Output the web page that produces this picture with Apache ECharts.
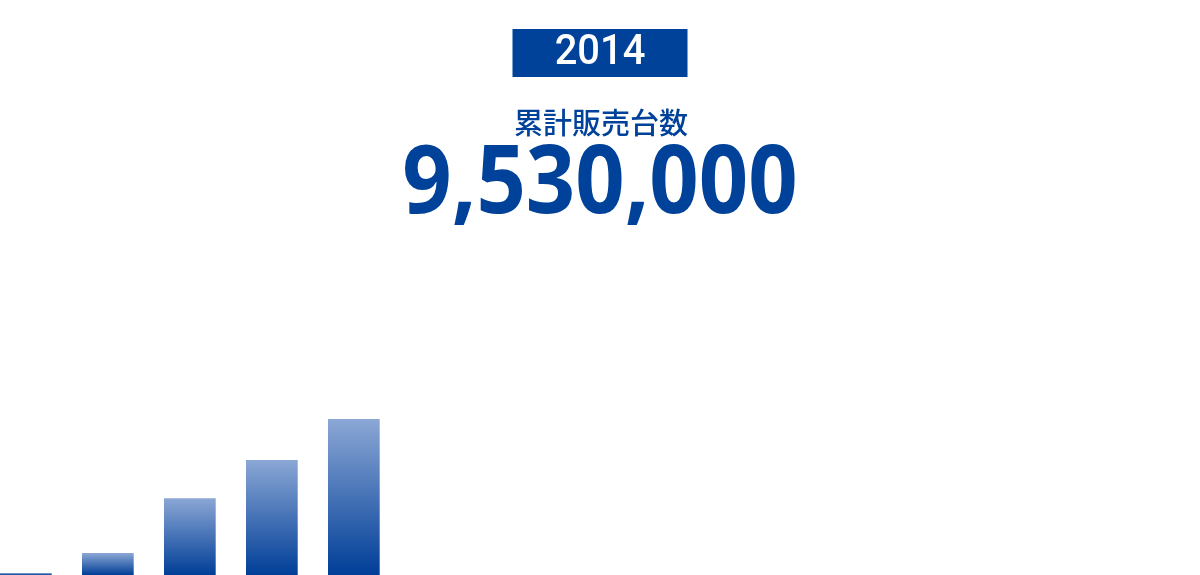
<!DOCTYPE html>
<html>
<head>
<meta charset="utf-8">
<script src="https://cdn.jsdelivr.net/npm/echarts@6/dist/echarts.min.js"></script>
<style>
html,body{margin:0;padding:0;background:#fff;}
#chart{width:1200px;height:575px;}
</style>
</head>
<body>
<div id="chart"></div>
<script>
var categories = ['2010','2011','2012','2013','2014','2015','2016','2017','2018','2019','2020','2021','2022','2023','2024'];
var salesValues = [120000, 1340000, 4690000, 7030000, 9530000, null, null, null, null, null, null, null, null, null, null];
var yearLabel = '2014';
var captionLabel = '累計販売台数';
var totalLabel = '9,530,000';

var blue = '#00419a';
var chart = echarts.init(document.getElementById('chart'), null, {renderer: 'canvas'});
chart.setOption({
  animation: false,
  backgroundColor: '#ffffff',
  grid: {left: -15.15, width: 1230, top: 84, height: 491, containLabel: false, outerBoundsMode: 'none'},
  xAxis: {
    type: 'category', data: categories, show: false,
    axisLine: {show: false}, axisTick: {show: false}, axisLabel: {show: false}
  },
  yAxis: {type: 'value', min: 0, max: 30000000, show: false, splitLine: {show: false}},
  series: [{
    type: 'bar',
    data: salesValues,
    barWidth: 51.7,
    itemStyle: {
      color: new echarts.graphic.LinearGradient(0, 0, 0, 1, [
        {offset: 0, color: '#8ba7d5'},
        {offset: 1, color: '#003e97'}
      ])
    }
  }],
  graphic: [
    {type: 'rect', left: 512.5, top: 29, shape: {width: 175, height: 48}, style: {fill: blue}, z: 10},
    {type: 'text', x: 600, y: 53, scaleX: 0.95, z: 11,
      style: {text: yearLabel, fill: '#ffffff', font: '500 42px Roboto', textAlign: 'center', textVerticalAlign: 'middle'}},
    {type: 'text', x: 601, y: 123, z: 11,
      style: {text: captionLabel, fill: blue, font: '500 29px "Noto Sans CJK JP"', textAlign: 'center', textVerticalAlign: 'middle'}},
    {type: 'text', x: 600, y: 186, scaleX: 0.91, z: 11,
      style: {text: totalLabel, fill: blue, font: 'bold 95px "Open Sans"', textAlign: 'center', textVerticalAlign: 'middle'}}
  ]
});
</script>
</body>
</html>
